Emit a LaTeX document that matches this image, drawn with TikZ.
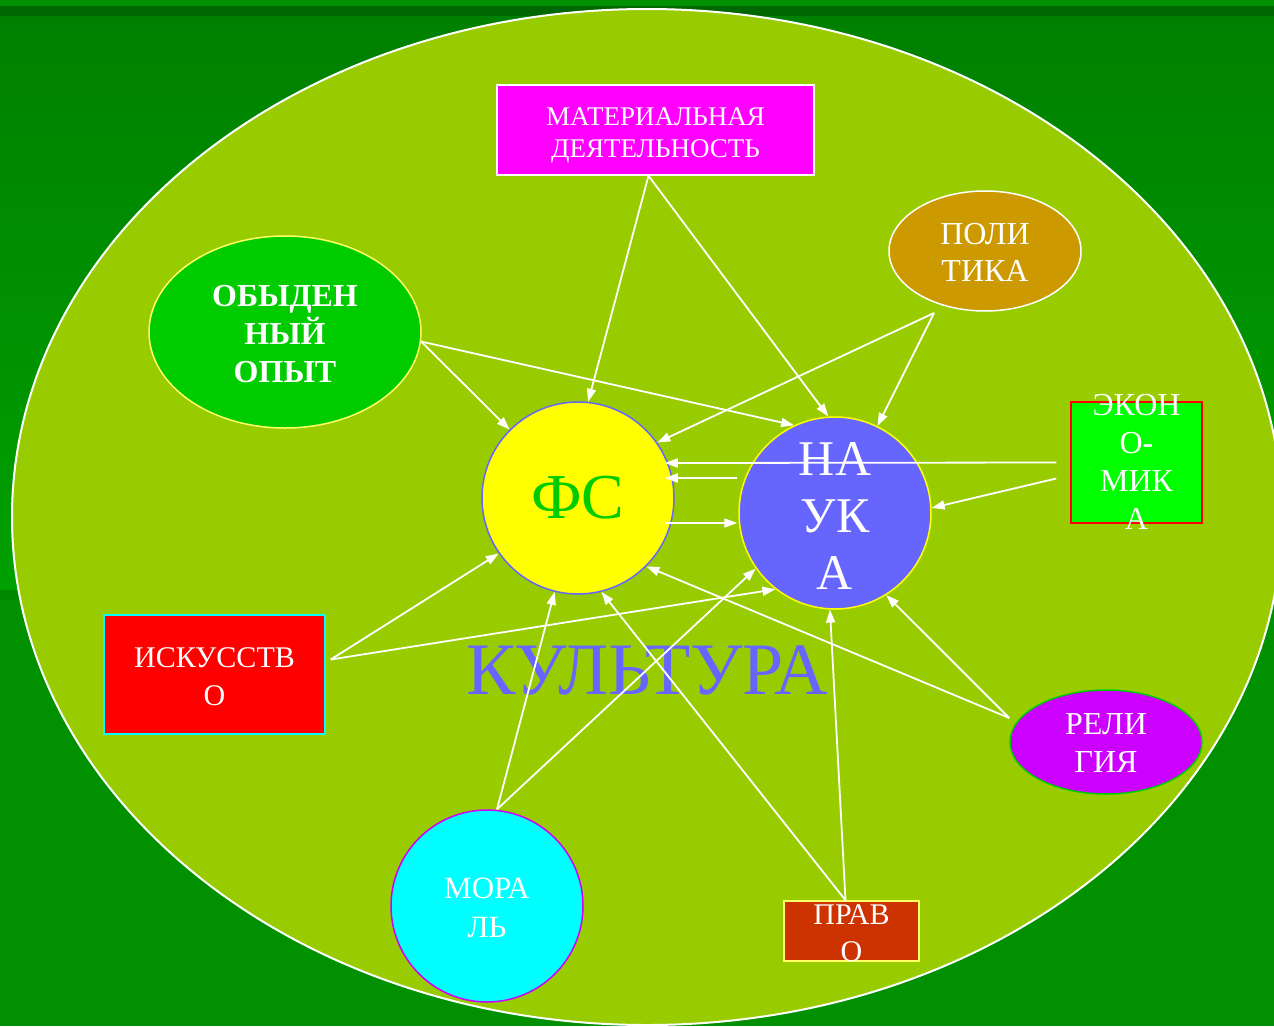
\documentclass[tikz,border=0pt]{standalone}
\usepackage{fontspec}
\setmainfont{Liberation Serif}
\usetikzlibrary{arrows.meta,shapes.geometric}
\definecolor{bgA}{HTML}{008000}
\definecolor{bgB}{HTML}{009000}
\definecolor{bgC}{HTML}{006600}
\definecolor{bgD}{HTML}{00A000}
\definecolor{bgE}{HTML}{008800}
\definecolor{ellc}{HTML}{99CC00}
\definecolor{magc}{HTML}{FF00FF}
\definecolor{polc}{HTML}{CC9900}
\definecolor{obyc}{HTML}{00CC00}
\definecolor{paley}{HTML}{FFFF66}
\definecolor{pureyel}{HTML}{FFFF00}
\definecolor{aqua}{HTML}{00FFFF}
\definecolor{purered}{HTML}{FF0000}
\definecolor{blu}{HTML}{6666FF}
\definecolor{ekc}{HTML}{00FF00}
\definecolor{relc}{HTML}{CC00FF}
\definecolor{prc}{HTML}{CC3300}
\tikzset{
  shp/.style={inner sep=0pt, line width=1.5pt},
  txt/.style={text=white, align=center, inner sep=0pt},
  conn/.style={draw=white, line width=1.8pt, -{Triangle[length=13pt,width=9pt]}},
}
\begin{document}
\begin{tikzpicture}[x=1pt,y=-1pt]
\useasboundingbox (0,0) rectangle (1274,1026);
\clip (0,0) rectangle (1274,1026);
% background
\fill[bgA] (0,0) rectangle (1274,1026);
\fill[bgB] (0,0) rectangle (1274,6);
\fill[bgC] (0,6) rectangle (1274,16);
\shade[top color=bgA, bottom color=bgD] (0,16) rectangle (1274,590);
\fill[bgE] (0,590) rectangle (1274,600);
\fill[bgB] (0,600) rectangle (1274,1026);
% culture ellipse
\draw[white, line width=2pt, fill=ellc] (647,517) ellipse [x radius=635, y radius=508];
\node[text=blu, inner sep=0pt, font={\fontsize{74}{76}\selectfont}] (kult) at (647,670) {КУЛЬТУРА};
% nodes
\node[shp, rectangle, draw=white, fill=magc, minimum width=317pt, minimum height=90pt] (mat) at (655.5,130) {};
\node[txt, font={\fontsize{27}{32}\selectfont}] (matt) at ([yshift=-5pt]mat.center) {МАТЕРИАЛЬНАЯ\\ДЕЯТЕЛЬНОСТЬ};
\node[shp, ellipse, draw=white, fill=polc, minimum width=192pt, minimum height=120pt] (pol) at (985,251) {};
\node[txt, font={\fontsize{32}{37}\selectfont}] (polt) at ([yshift=-1pt]pol.center) {ПОЛИ\\ТИКА};
\node[shp, ellipse, draw=paley, fill=obyc, minimum width=272pt, minimum height=192pt] (oby) at (285,332) {};
\node[txt, font={\fontsize{32}{38}\selectfont\bfseries}] (obyt) at ([yshift=-2pt]oby.center) {ОБЫДЕН\\НЫЙ\\ОПЫТ};
\node[shp, circle, draw=blu, fill=pureyel, minimum size=192pt] (fs) at (578,498) {};
\node[txt, text=obyc, font={\fontsize{64}{66}\selectfont}] (fst) at (fs.center) {ФС};
\node[shp, circle, draw=pureyel, fill=blu, minimum size=192pt] (nau) at (835,513) {};
\node[txt, font={\fontsize{50}{57}\selectfont}] (naut) at ([yshift=-3pt]nau.center) {НА\\УК\\А};
\node[shp, rectangle, draw=purered, fill=ekc, minimum width=131pt, minimum height=121pt] (ek) at (1136.5,462.5) {};
\node[txt, font={\fontsize{32}{38}\selectfont}] (ekt) at ([yshift=1pt]ek.center) {ЭКОН\\О\textbf{-}\\МИК\\А};
\node[shp, rectangle, draw=aqua, fill=purered, minimum width=221pt, minimum height=119pt] (isk) at (214.5,674.5) {};
\node[txt, font={\fontsize{30}{38}\selectfont}] (iskt) at ([yshift=-2pt]isk.center) {ИСКУССТВ\\О};
\node[shp, ellipse, draw=obyc, fill=relc, minimum width=192pt, minimum height=104pt] (rel) at (1106,742) {};
\node[txt, font={\fontsize{32}{38}\selectfont}] (relt) at ([yshift=-1pt]rel.center) {РЕЛИ\\ГИЯ};
\node[shp, circle, draw=relc, fill=aqua, minimum size=192pt] (mor) at (487,906) {};
\node[txt, font={\fontsize{31}{39}\selectfont}] (mort) at ([yshift=-2pt]mor.center) {МОРА\\ЛЬ};
\node[shp, rectangle, draw=paley, fill=prc, minimum width=135pt, minimum height=60pt] (prav) at (851.5,931) {};
\node[txt, font={\fontsize{30}{37}\selectfont}] (pravt) at ([yshift=-2pt]prav.center) {ПРАВ\\О};
% connectors
\draw[conn] ([xshift=-7pt]mat.south) -- (fs.84);
\draw[conn] ([xshift=-7pt]mat.south) -- (nau.94);
\draw[conn] (oby.-4) -- (fs.135);
\draw[conn] (oby.-4) -- (nau.115);
\draw[conn] ([xshift=-51pt,yshift=-62pt]pol.center) -- (fs.35);
\draw[conn] ([xshift=-51pt,yshift=-62pt]pol.center) -- (nau.64);
\draw[conn] ([xshift=-14pt]ek.west) -- ([xshift=-10pt,yshift=35pt]fs.east);
\draw[conn] ([xshift=-14pt,yshift=-16pt]ek.west) -- (nau.3);
\draw[conn] ([xshift=-1pt,yshift=35pt]nau.west) -- ([xshift=-10pt,yshift=20pt]fs.east);
\draw[conn] ([xshift=-10pt,yshift=-25pt]fs.east) -- ([xshift=-1pt,yshift=-10pt]nau.west);
\draw[conn] ([xshift=5pt,yshift=15pt]isk.east) -- (fs.-145);
\draw[conn] ([xshift=5pt,yshift=15pt]isk.east) -- (nau.-128);
\draw[conn] ([yshift=24pt]rel.west) -- (fs.-45);
\draw[conn] ([yshift=24pt]rel.west) -- (nau.-58);
\draw[conn] ([xshift=10pt]mor.north) -- (fs.-104);
\draw[conn] ([xshift=10pt]mor.north) -- (nau.-145);
\draw[conn] ([xshift=-6pt]prav.north) -- (fs.-76);
\draw[conn] ([xshift=-6pt]prav.north) -- (nau.-93);
\end{tikzpicture}
\end{document}
